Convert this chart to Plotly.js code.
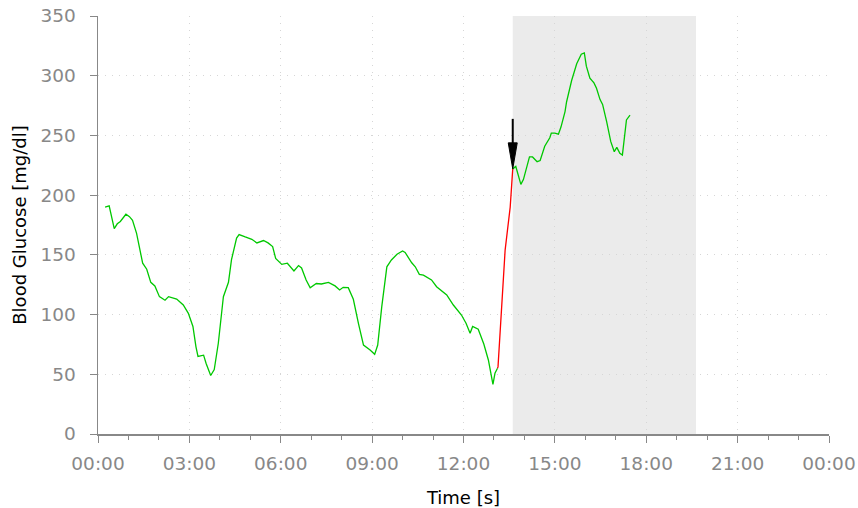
<!DOCTYPE html>
<html>
<head>
<meta charset="utf-8">
<script src="https://cdn.plot.ly/plotly-3.0.1.min.js"></script>
<style>html,body{margin:0;padding:0;background:#fff;}#chart{width:858px;height:508px;}</style>
</head>
<body>
<div id="chart"></div>
<script>
var day = '2020-01-01 ';
// Green segment before the marked rise
var preTimes = ['00:14','00:22','00:32','00:38','00:44','00:55','01:02','01:08','01:16','01:28','01:36','01:44','01:52','02:01','02:12','02:19','02:35','02:48','02:58','03:07','03:13','03:17','03:28','03:33','03:42','03:49','03:57','04:07','04:17','04:23','04:33','04:38','04:50','05:03','05:13','05:26','05:35','05:44','05:50','06:02','06:13','06:26','06:35','06:41','06:50','06:58','07:10','07:20','07:34','07:47','07:56','08:03','08:13','08:23','08:33','08:43','08:56','09:05','09:11','09:19','09:29','09:38','09:49','10:00','10:05','10:18','10:25','10:33','10:41','10:47','10:57','11:07','11:27','11:40','11:56','12:05','12:13','12:18','12:29','12:40','12:49','12:58','13:02','13:07'];
var preValues = [190,191,172,176,178,184,182,179,168,143,138,127,124,115,112,115,113,108,101,90,73,65,66,59,49,54,76,115,127,146,164,167,165,163,160,162,160,157,147,142,143,136.5,141,139,129,122.5,126,125.6,127,124,120.6,122.8,122.5,112.8,92.7,74.5,70.3,66.7,74.5,106.6,140,145.7,150.5,153.2,152,143.4,140,133.7,133,131.7,129,123.3,116.4,108,99.6,92.7,84.3,90,87.7,75.4,62,41.6,50.8,55];
// Red segment (rapid rise)
var redTimes = ['13:07','13:08','13:22','13:28','13:32','13:37'];
var redValues = [55,56.4,154,179,190,222];
// Green segment after the marker
var postTimes = ['13:37','13:43','13:53','13:58','14:10','14:16','14:25','14:31','14:40','14:50','14:53','15:00','15:07','15:12','15:20','15:23','15:33','15:43','15:52','15:58','16:02','16:09','16:17','16:22','16:29','16:34','16:42','16:50','16:57','17:02','17:08','17:13','17:21','17:28'];
var postValues = [222,224,209,213,232,232,228,229,241,248,252,252,251,257,270,278,296,310,318,319,308,298,294,289.5,280,276,261.5,245,236.4,240,235,233.6,263,267];
// Shaded period and arrow marker
var shadeStart = '13:37', shadeEnd = '19:38';
var arrowTime = '13:37', arrowValue = 222;
var xTickStep = 3; // hours

function ts(a){ return a.map(function(t){ return day + t; }); }

var green = '#00c800', red = '#ff0000';
var traces = [
  {x: ts(preTimes), y: preValues, type:'scatter', mode:'lines', line:{color:green, width:1.3}, hoverinfo:'skip'},
  {x: ts(redTimes), y: redValues, type:'scatter', mode:'lines', line:{color:red, width:1.3}, hoverinfo:'skip'},
  {x: ts(postTimes), y: postValues, type:'scatter', mode:'lines', line:{color:green, width:1.3}, hoverinfo:'skip'}
];

var tickFont = {family:'DejaVu Sans', size:18.5, color:'#888888'};
var titleFont = {family:'DejaVu Sans', size:18, color:'#000000'};
var layout = {
  width:858, height:508,
  margin:{l:98, r:29, t:16, b:74},
  paper_bgcolor:'#ffffff', plot_bgcolor:'#ffffff',
  showlegend:false,
  xaxis:{
    type:'date',
    range:[day+'00:00', '2020-01-02 00:00'],
    dtick: xTickStep*3600000, tick0: day+'00:00',
    tickformat:'%H:%M',
    ticks:'outside', ticklen:7, tickwidth:1, tickcolor:'#888888',
    minor:{dtick:3600000, ticks:'outside', ticklen:4, tickcolor:'#888888', showgrid:false},
    showline:true, linecolor:'#888888', linewidth:1.5,
    showgrid:true, gridcolor:'#d6d6d6', griddash:'1px,6px', gridwidth:1,
    zeroline:false,
    tickfont:tickFont, ticklabelstandoff:5,
    title:{text:'Time [s]', font:titleFont, standoff:18}
  },
  yaxis:{
    range:[0,350], dtick:50,
    ticks:'outside', ticklen:7, tickwidth:1, tickcolor:'#888888',
    showline:true, linecolor:'#888888', linewidth:1.5,
    showgrid:true, gridcolor:'#d6d6d6', griddash:'1px,6px', gridwidth:1,
    zeroline:false,
    tickfont:tickFont, ticklabelstandoff:10,
    title:{text:'Blood Glucose [mg/dl]', font:titleFont, standoff:9}
  },
  shapes:[
    {type:'rect', xref:'x', yref:'paper', x0:day+shadeStart, x1:day+shadeEnd, y0:0, y1:1, fillcolor:'#ebebeb', line:{width:0}, layer:'below'},
    {type:'path', xref:'x', yref:'y', xsizemode:'pixel', ysizemode:'pixel', xanchor:day+arrowTime, yanchor:arrowValue,
      path:'M0,24 L0,50', line:{color:'#000000', width:2}},
    {type:'path', xref:'x', yref:'y', xsizemode:'pixel', ysizemode:'pixel', xanchor:day+arrowTime, yanchor:arrowValue,
      path:'M-4.5,26 L4.5,26 L0,0 Z', fillcolor:'#000000', line:{color:'#000000', width:1}}
  ]
};

Plotly.newPlot('chart', traces, layout, {staticPlot:true, displayModeBar:false});
</script>
</body>
</html>
